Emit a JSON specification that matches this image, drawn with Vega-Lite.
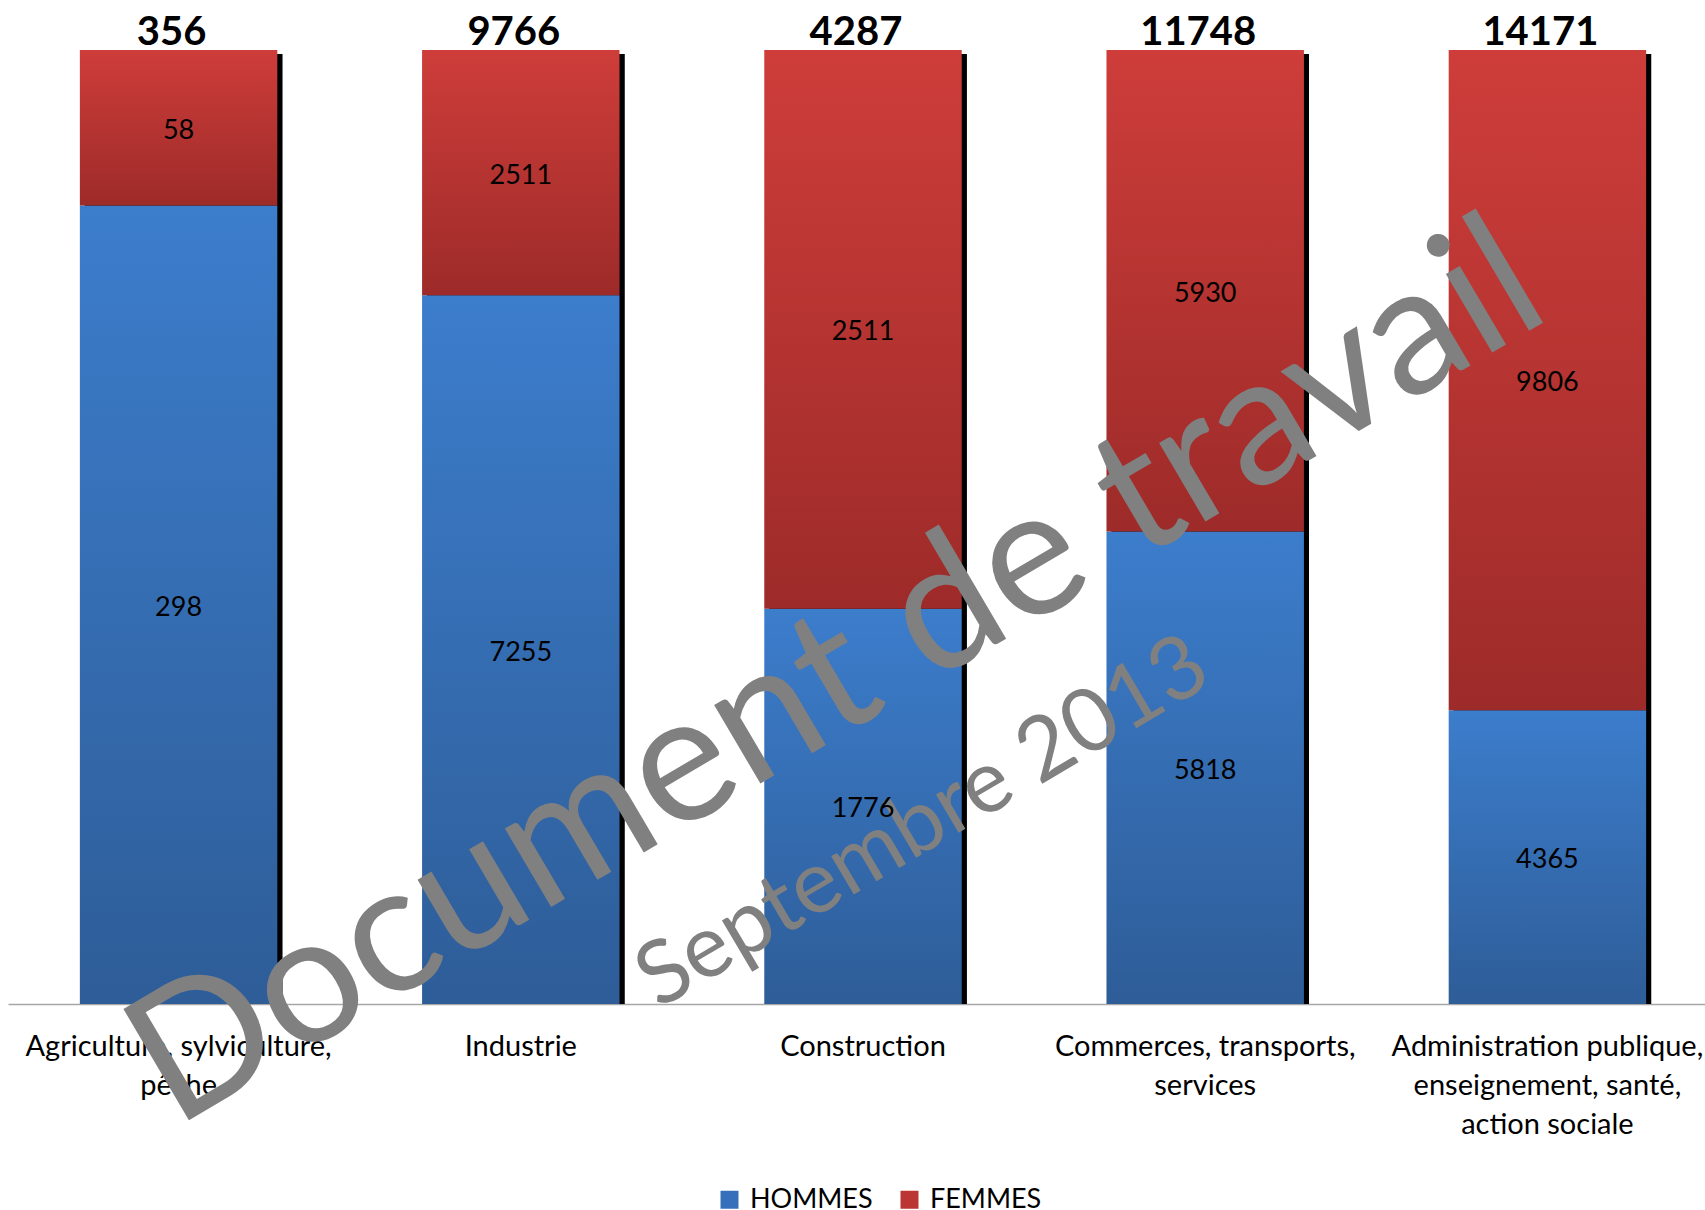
{
  "$schema": "https://vega.github.io/schema/vega-lite/v6.json",
  "autosize": {"type": "none"},
  "width": 1697,
  "height": 954,
  "padding": {"left": 8, "top": 50, "right": 0, "bottom": 206},
  "background": "white",
  "config": {
    "view": {"stroke": null},
    "font": "Lato",
    "text": {"font": "Lato"}
  },
  "data": {
    "values": [
      {"categorie": "Agriculture, sylviculture,|pêche", "sexe": "HOMMES", "valeur": 298},
      {"categorie": "Agriculture, sylviculture,|pêche", "sexe": "FEMMES", "valeur": 58},
      {"categorie": "Industrie", "sexe": "HOMMES", "valeur": 7255},
      {"categorie": "Industrie", "sexe": "FEMMES", "valeur": 2511},
      {"categorie": "Construction", "sexe": "HOMMES", "valeur": 1776},
      {"categorie": "Construction", "sexe": "FEMMES", "valeur": 2511},
      {"categorie": "Commerces, transports,|services", "sexe": "HOMMES", "valeur": 5818},
      {"categorie": "Commerces, transports,|services", "sexe": "FEMMES", "valeur": 5930},
      {"categorie": "Administration publique,|enseignement, santé,|action sociale", "sexe": "HOMMES", "valeur": 4365},
      {"categorie": "Administration publique,|enseignement, santé,|action sociale", "sexe": "FEMMES", "valeur": 9806}
    ]
  },
  "encoding": {
    "x": {
      "field": "categorie",
      "type": "nominal",
      "sort": null,
      "title": null,
      "scale": {"range": [0, 1710], "paddingInner": 0.423, "paddingOuter": 0.21},
      "axis": {
        "domainColor": "#A6A6A6",
        "domainWidth": 1.5,
        "ticks": false,
        "labelAngle": 0,
        "labelFont": "Lato",
        "labelFontSize": 29,
        "labelColor": "#000000",
        "labelPadding": 28,
        "labelLineHeight": 39,
        "labelLimit": 0,
        "labelOverlap": false,
        "labelBound": false,
        "labelExpr": "split(datum.label, '|')"
      }
    }
  },
  "layer": [
    {
      "mark": {"type": "bar", "color": "#000000", "xOffset": 5, "yOffset": 4},
      "encoding": {
        "y": {"datum": 1, "type": "quantitative", "scale": {"domain": [0, 1]}, "axis": null},
        "y2": {"datum": 0}
      }
    },
    {
      "mark": {"type": "bar"},
      "encoding": {
        "y": {"field": "valeur", "type": "quantitative", "stack": "normalize", "axis": null},
        "detail": {"field": "sexe"},
        "order": {"field": "sexe", "sort": "descending"},
        "fill": {
          "condition": {
            "test": "datum.sexe === 'HOMMES'",
            "value": {"gradient": "linear", "x1": 0, "y1": 0, "x2": 0, "y2": 1,
              "stops": [{"offset": 0, "color": "#3C7DCC"}, {"offset": 1, "color": "#2E5D98"}]}
          },
          "value": {"gradient": "linear", "x1": 0, "y1": 0, "x2": 0, "y2": 1,
            "stops": [{"offset": 0, "color": "#CE3D3A"}, {"offset": 1, "color": "#9D2B29"}]}
        }
      }
    },
    {
      "mark": {"type": "point", "opacity": 0, "shape": "square", "filled": true},
      "encoding": {
        "y": {"datum": 0, "type": "quantitative"},
        "color": {
          "field": "sexe",
          "type": "nominal",
          "sort": ["HOMMES", "FEMMES"],
          "scale": {"domain": ["HOMMES", "FEMMES"], "range": ["#3670BA", "#BA3533"]},
          "legend": {
            "title": null,
            "orient": "none",
            "direction": "horizontal",
            "legendX": 708,
            "legendY": 1136,
            "padding": 0,
            "symbolType": "square",
            "symbolSize": 324,
            "symbolStrokeWidth": 0,
            "labelFont": "Lato",
            "labelFontSize": 27,
            "labelColor": "#000000",
            "labelOffset": 7,
            "columnPadding": 23,
            "labelLimit": 0,
            "encode": {
              "symbols": {
                "update": {
                  "opacity": {"value": 1},
                  "fillOpacity": {"value": 1},
                  "strokeOpacity": {"value": 0}
                }
              }
            }
          }
        }
      }
    },
    {
      "data": {"values": [{}]},
      "mark": {"type": "text", "text": "Document de travail", "font": "Lato", "fontSize": 180, "color": "#808080", "angle": -30.5, "align": "center", "baseline": "middle", "dx": -30},
      "encoding": {
        "x": {"datum": "Construction"},
        "y": {"datum": 0.36, "type": "quantitative"}
      }
    },
    {
      "data": {"values": [{}]},
      "mark": {"type": "text", "text": "Septembre 2013", "font": "Lato", "fontSize": 88, "color": "#808080", "angle": -30.5, "align": "center", "baseline": "middle", "dx": 70},
      "encoding": {
        "x": {"datum": "Construction"},
        "y": {"datum": 0.152, "type": "quantitative"}
      }
    },
    {
      "transform": [
        {"stack": "valeur", "groupby": ["categorie"], "sort": [{"field": "sexe", "order": "descending"}], "offset": "normalize", "as": ["v0", "v1"]},
        {"fold": ["v0", "v1"], "as": ["bord", "pos"]},
        {"aggregate": [{"op": "mean", "field": "pos", "as": "milieu"}], "groupby": ["categorie", "sexe", "valeur"]}
      ],
      "mark": {"type": "text", "font": "Lato", "fontSize": 27, "color": "#000000", "baseline": "middle", "dy": 3},
      "encoding": {
        "y": {"field": "milieu", "type": "quantitative"},
        "text": {"field": "valeur", "type": "quantitative", "format": "d"}
      }
    },
    {
      "mark": {"type": "text", "font": "Lato", "fontSize": 40, "fontWeight": "bold", "color": "#000000", "baseline": "alphabetic", "dy": -5, "dx": -7},
      "encoding": {
        "y": {"datum": 1, "type": "quantitative"},
        "text": {"aggregate": "sum", "field": "valeur", "type": "quantitative", "format": "d"}
      }
    }
  ]
}
